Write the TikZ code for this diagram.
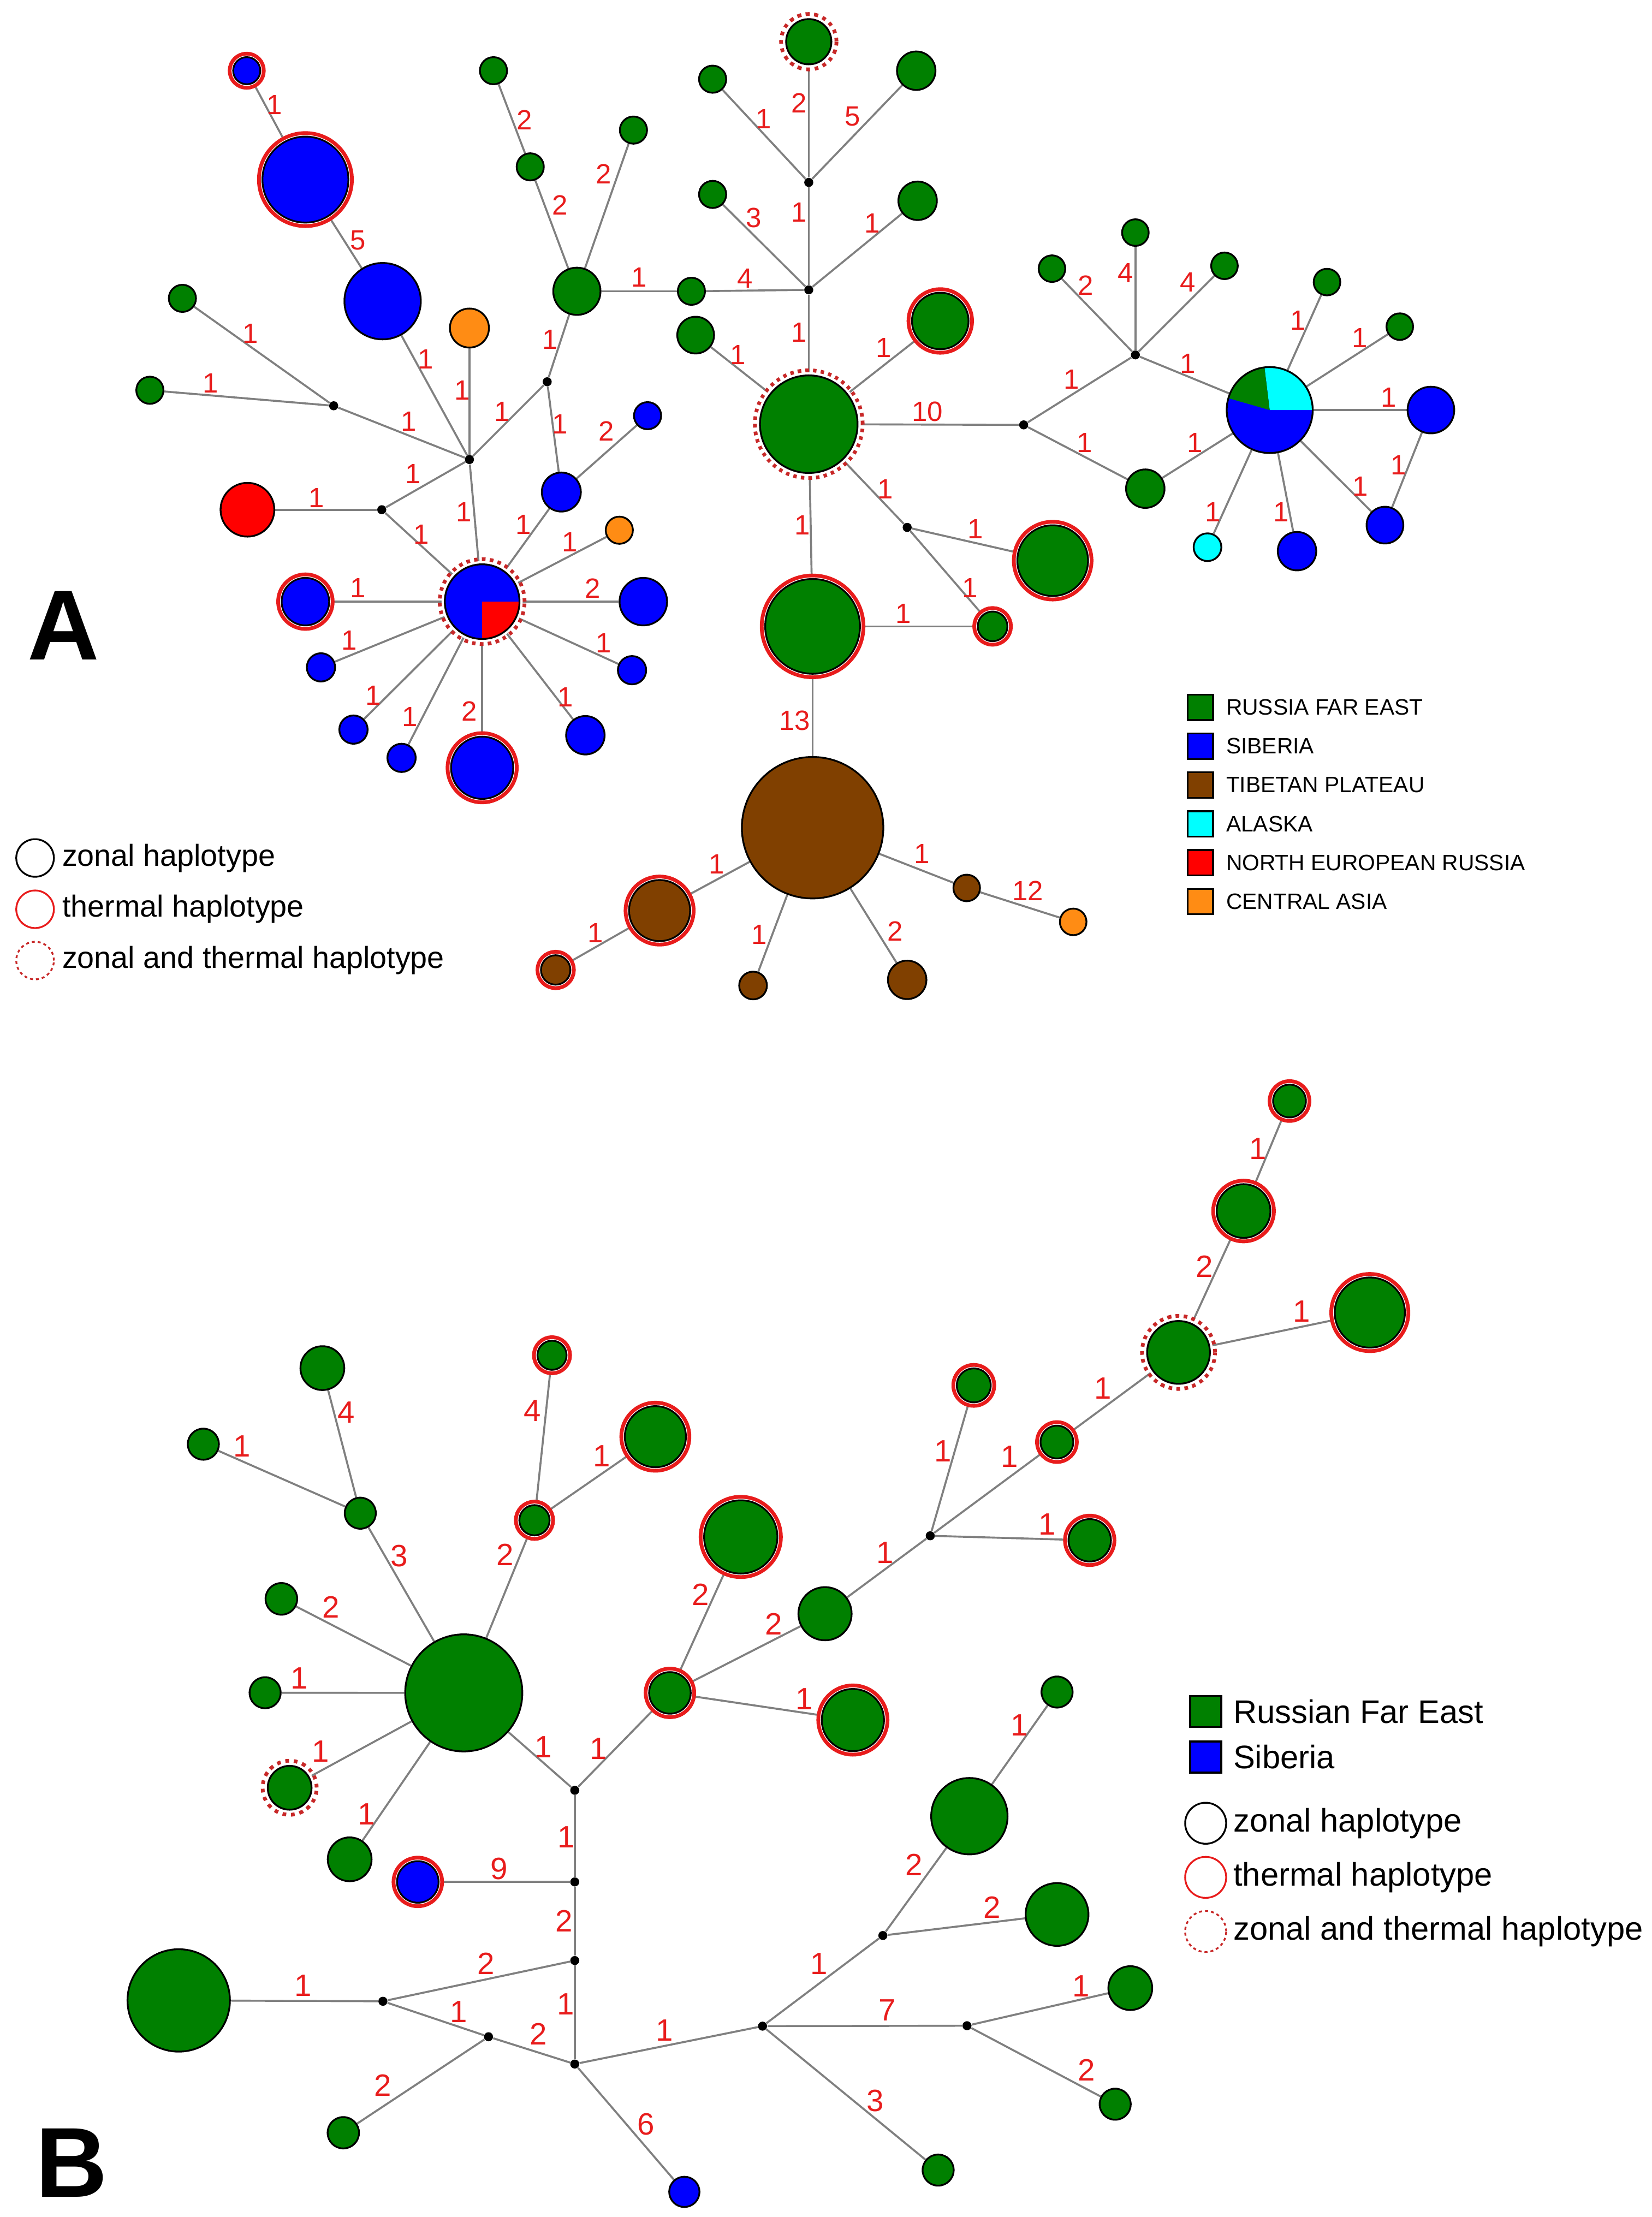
\documentclass[tikz,border=0pt]{standalone}
\usepackage{fontspec}
\setmainfont{Liberation Sans}
\usetikzlibrary{backgrounds,positioning}

\definecolor{cgreen}{RGB}{0,128,0}
\definecolor{cblue}{RGB}{0,0,255}
\definecolor{cbrown}{RGB}{128,64,0}
\definecolor{ccyan}{RGB}{0,255,255}
\definecolor{cred}{RGB}{255,0,0}
\definecolor{corange}{RGB}{255,140,20}
\definecolor{cring}{RGB}{232,28,28}
\definecolor{cdot}{RGB}{200,40,40}
\definecolor{cgray}{RGB}{128,128,128}

\begin{document}
\begin{tikzpicture}[x=0.025cm, y=-0.025cm,
    hap/.style 2 args={circle, draw=black, line width=0.9pt, inner sep=0pt, fill=#1, minimum size=#2*0.05cm},
    therm/.style={preaction={draw=cring, line width=5.4pt}, preaction={draw=white, line width=1.6pt}},
    both/.style={preaction={draw=cdot, line width=7pt, dash pattern=on 1.6pt off 1.9pt}, preaction={draw=white, line width=3.2pt}},
    jn/.style={circle, fill=black, inner sep=0pt, minimum size=0.16cm},
    lbl/.style={text=cring, inner sep=0pt, font=\fontsize{14}{14}\selectfont},
    keybox/.style={rectangle, draw=black, line width=0.9pt, inner sep=0pt, minimum size=#1},
    keyring/.style={circle, line width=0.9pt, inner sep=0pt, minimum size=#1},
    keytxt/.style={inner sep=0pt, font=\fontsize{#1}{#1}\selectfont}]
  \useasboundingbox (0,0) rectangle (1168,1568);

  \node[hap={cblue}{9.6}, therm] (a1) at (174.5,50) {};
  \node[hap={cblue}{30.4}, therm] (a2) at (216,127) {};
  \node[hap={cblue}{27}] (a3) at (270.6,213) {};
  \node[hap={corange}{13.8}] (a4) at (332,232) {};
  \node[hap={cgreen}{9.6}] (a5) at (129,211) {};
  \node[hap={cgreen}{9.6}] (a6) at (106,276) {};
  \node[jn] (ja1) at (236,287) {};
  \node[jn] (ja2) at (332,325) {};
  \node[jn] (ja3) at (387,270) {};
  \node[hap={cgreen}{16.7}] (a7) at (408,206) {};
  \node[hap={cgreen}{9.6}] (a8) at (375,118) {};
  \node[hap={cgreen}{9.6}] (a9) at (349,50) {};
  \node[hap={cgreen}{9.6}] (a10) at (448,92) {};
  \node[hap={cgreen}{9.6}] (a11) at (489,206) {};
  \node[jn] (ja4) at (572,205) {};
  \node[jn] (ja5) at (572,129) {};
  \node[hap={cgreen}{16}, both] (a12) at (572,29.5) {};
  \node[hap={cgreen}{9.6}] (a13) at (504,56) {};
  \node[hap={cgreen}{13.6}] (a14) at (648,50) {};
  \node[hap={cgreen}{9.6}] (a15) at (504,137.5) {};
  \node[hap={cgreen}{13.6}] (a16) at (649,142) {};
  \node[hap={cgreen}{34.5}, both] (a17) at (572,300) {};
  \node[hap={cgreen}{13}] (a18) at (492,237) {};
  \node[hap={cgreen}{20}, therm] (a19) at (665,227) {};
  \node[jn] (ja6) at (724,300.5) {};
  \node[jn] (ja7) at (803,251) {};
  \node[hap={cgreen}{9.4}] (a20) at (744,190) {};
  \node[hap={cgreen}{9.4}] (a21) at (803,164.5) {};
  \node[hap={cgreen}{9.4}] (a22) at (866,188) {};
  \node[hap={cgreen}{13.6}] (a23) at (810,345.6) {};
  \node[hap={cblue}{30.4}, path picture={
      \fill[ccyan] (path picture bounding box.center) -- ++(0:1cm) arc[start angle=0, end angle=97, radius=1cm] -- cycle;
      \fill[cgreen] (path picture bounding box.center) -- ++(97:1cm) arc[start angle=97, end angle=164, radius=1cm] -- cycle;}] (a24) at (898,290) {};
  \node[hap={cgreen}{9.4}] (a25) at (938.5,199.5) {};
  \node[hap={cgreen}{9.4}] (a26) at (990,231) {};
  \node[hap={cblue}{16.5}] (a27) at (1012,290) {};
  \node[hap={cblue}{13}] (a28) at (979.5,371.4) {};
  \node[hap={cblue}{13.6}] (a29) at (917.3,389.8) {};
  \node[hap={ccyan}{9.8}] (a30) at (854,387) {};
  \node[jn] (ja8) at (641.6,373) {};
  \node[hap={cgreen}{25}, therm] (a31) at (744.5,396.5) {};
  \node[hap={cgreen}{10.5}, therm] (a32) at (702,443) {};
  \node[hap={cgreen}{33.5}, therm] (a33) at (574.7,443) {};
  \node[hap={cbrown}{50}] (a34) at (574.7,585.4) {};
  \node[hap={cbrown}{21.6}, therm] (a35) at (466.5,644) {};
  \node[hap={cbrown}{10.4}, therm] (a36) at (393,686) {};
  \node[hap={cbrown}{9.8}] (a37) at (532.6,697) {};
  \node[hap={cbrown}{13.6}] (a38) at (641.6,693) {};
  \node[hap={cbrown}{9.4}] (a39) at (683.7,628) {};
  \node[hap={corange}{9.4}] (a40) at (759,652) {};
  \node[hap={cred}{19}] (a41) at (175,360.5) {};
  \node[jn] (ja9) at (270,360.5) {};
  \node[hap={cblue}{26.4}, both, path picture={
      \fill[cred] (path picture bounding box.center) -- ++(0:1cm) arc[start angle=0, end angle=-90, radius=1cm] -- cycle;}] (a42) at (341,425.5) {};
  \node[hap={cblue}{13.8}] (a43) at (397,348) {};
  \node[hap={cblue}{9.6}] (a44) at (458,294) {};
  \node[hap={corange}{9.6}] (a45) at (438,375) {};
  \node[hap={cblue}{16.8}] (a46) at (455,425.5) {};
  \node[hap={cblue}{10}] (a47) at (447,474) {};
  \node[hap={cblue}{13.6}] (a48) at (414,520) {};
  \node[hap={cblue}{22}, therm] (a49) at (341,543) {};
  \node[hap={cblue}{10}] (a50) at (284,536) {};
  \node[hap={cblue}{10}] (a51) at (250,516) {};
  \node[hap={cblue}{10}] (a52) at (227,472) {};
  \node[hap={cblue}{16.8}, therm] (a53) at (216,425.5) {};

  \begin{scope}[on background layer, every edge/.style={draw=cgray, line width=1pt}]
    \path (a1) edge (a2) (194,74) node[lbl] (la1) {1};
    \path (a2) edge (a3) (253,170) node[lbl] (la2) {5};
    \path (a3) edge (ja2) (301,254) node[lbl] (la3) {1};
    \path (a4) edge (ja2) (327,276) node[lbl] (la4) {1};
    \path (a5) edge (ja1) (177,236) node[lbl] (la5) {1};
    \path (a6) edge (ja1) (149,271) node[lbl] (la6) {1};
    \path (ja1) edge (ja2) (289,298) node[lbl] (la7) {1};
    \path (ja2) edge (ja3) (355,291) node[lbl] (la8) {1};
    \path (ja3) edge (a7) (389,240) node[lbl] (la9) {1};
    \path (a7) edge (a8) (396,145) node[lbl] (la10) {2};
    \path (a8) edge (a9) (371,85) node[lbl] (la11) {2};
    \path (a7) edge (a10) (427,123) node[lbl] (la12) {2};
    \path (a7) edge (a11) (452,196) node[lbl] (la13) {1};
    \path (a11) edge (ja4) (527,197) node[lbl] (la14) {4};
    \path (ja4) edge (ja5) (565,150) node[lbl] (la15) {1};
    \path (ja5) edge (a12) (565,73) node[lbl] (la16) {2};
    \path (ja5) edge (a13) (540,84) node[lbl] (la17) {1};
    \path (ja5) edge (a14) (603,82.5) node[lbl] (la18) {5};
    \path (ja4) edge (a15) (533,154) node[lbl] (la19) {3};
    \path (ja4) edge (a16) (617,158) node[lbl] (la20) {1};
    \path (ja4) edge (a17) (565,235) node[lbl] (la21) {1};
    \path (a18) edge (a17) (522,251) node[lbl] (la22) {1};
    \path (a19) edge (a17) (625,246) node[lbl] (la23) {1};
    \path (a17) edge (ja6) (656,291) node[lbl] (la24) {10};
    \path (ja6) edge (ja7) (758,268.5) node[lbl] (la25) {1};
    \path (ja7) edge (a20) (768,202) node[lbl] (la26) {2};
    \path (ja7) edge (a21) (796,193) node[lbl] (la27) {4};
    \path (ja7) edge (a22) (840,199.5) node[lbl] (la28) {4};
    \path (ja7) edge (a24) (840,257) node[lbl] (la29) {1};
    \path (ja6) edge (a23) (767,313) node[lbl] (la30) {1};
    \path (a23) edge (a24) (845,313) node[lbl] (la31) {1};
    \path (a24) edge (a25) (918,226.6) node[lbl] (la32) {1};
    \path (a24) edge (a26) (961.5,239) node[lbl] (la33) {1};
    \path (a24) edge (a27) (982,281) node[lbl] (la34) {1};
    \path (a27) edge (a28) (989,329) node[lbl] (la35) {1};
    \path (a24) edge (a28) (962,344) node[lbl] (la36) {1};
    \path (a24) edge (a29) (906,362) node[lbl] (la37) {1};
    \path (a24) edge (a30) (858,362) node[lbl] (la38) {1};
    \path (a17) edge (ja8) (626,346) node[lbl] (la39) {1};
    \path (ja8) edge (a31) (690,374) node[lbl] (la40) {1};
    \path (ja8) edge (a32) (686,416) node[lbl] (la41) {1};
    \path (a17) edge (a33) (567.5,371.5) node[lbl] (la42) {1};
    \path (a33) edge (a32) (639,434) node[lbl] (la43) {1};
    \path (a33) edge (a34) (562,509.5) node[lbl] (la44) {13};
    \path (a34) edge (a35) (507,611) node[lbl] (la45) {1};
    \path (a35) edge (a36) (421,660) node[lbl] (la46) {1};
    \path (a34) edge (a37) (537,661) node[lbl] (la47) {1};
    \path (a34) edge (a38) (633,658.6) node[lbl] (la48) {2};
    \path (a34) edge (a39) (652,604) node[lbl] (la49) {1};
    \path (a39) edge (a40) (726.8,630) node[lbl] (la50) {12};
    \path (a41) edge (ja9) (224,352) node[lbl] (la51) {1};
    \path (ja9) edge (ja2) (292,335) node[lbl] (la52) {1};
    \path (ja9) edge (a42) (298,378) node[lbl] (la53) {1};
    \path (ja2) edge (a42) (328,362) node[lbl] (la54) {1};
    \path (ja3) edge (a43) (396,300) node[lbl] (la55) {1};
    \path (a43) edge (a44) (429,305) node[lbl] (la56) {2};
    \path (a43) edge (a42) (370,371) node[lbl] (la57) {1};
    \path (a45) edge (a42) (403,383.5) node[lbl] (la58) {1};
    \path (a46) edge (a42) (419,416) node[lbl] (la59) {2};
    \path (a47) edge (a42) (427,455) node[lbl] (la60) {1};
    \path (a48) edge (a42) (400,493) node[lbl] (la61) {1};
    \path (a49) edge (a42) (332,503) node[lbl] (la62) {2};
    \path (a50) edge (a42) (290,507) node[lbl] (la63) {1};
    \path (a51) edge (a42) (264,492) node[lbl] (la64) {1};
    \path (a52) edge (a42) (247,453) node[lbl] (la65) {1};
    \path (a53) edge (a42) (253,416) node[lbl] (la66) {1};
  \end{scope}

  \node[inner sep=0pt, font=\bfseries\fontsize{50}{50}\selectfont] (tA) at (44.8,442.5) {A};

  \node[keyring=0.665cm, draw=black] (kz) at (24.8,606.8) {};
  \node[keyring=0.665cm, draw=cring] (kt) [below=0.21cm of kz] {};
  \node[keyring=0.665cm, draw=cdot, dash pattern=on 1.5pt off 1.5pt] (kb) [below=0.21cm of kt] {};
  \node[keytxt=15.3, right=0.125cm of kz] (tz) {zonal haplotype};
  \node[keytxt=15.3, right=0.125cm of kt] (tt) {thermal haplotype};
  \node[keytxt=15.3, right=0.125cm of kb] (tb) {zonal and thermal haplotype};

  \node[keybox=0.45cm, fill=cgreen] (ka1) at (848.9,500.3) {};
  \node[keybox=0.45cm, fill=cblue] (ka2) [below=0.205cm of ka1] {};
  \node[keybox=0.45cm, fill=cbrown] (ka3) [below=0.205cm of ka2] {};
  \node[keybox=0.45cm, fill=ccyan] (ka4) [below=0.205cm of ka3] {};
  \node[keybox=0.45cm, fill=cred] (ka5) [below=0.205cm of ka4] {};
  \node[keybox=0.45cm, fill=corange] (ka6) [below=0.205cm of ka5] {};
  \node[keytxt=11.2, right=0.21cm of ka1] (ta1) {RUSSIA FAR EAST};
  \node[keytxt=11.2, right=0.21cm of ka2] (ta2) {SIBERIA};
  \node[keytxt=11.2, right=0.21cm of ka3] (ta3) {TIBETAN PLATEAU};
  \node[keytxt=11.2, right=0.21cm of ka4] (ta4) {ALASKA};
  \node[keytxt=11.2, right=0.21cm of ka5] (ta5) {NORTH EUROPEAN RUSSIA};
  \node[keytxt=11.2, right=0.21cm of ka6] (ta6) {CENTRAL ASIA};

  \begin{scope}[lbl/.append style={font=\fontsize{15.5}{15.5}\selectfont}]
    \node[hap={cgreen}{15.5}] (b1) at (228,967.6) {};
    \node[hap={cgreen}{11}] (b2) at (254.8,1070.2) {};
    \node[hap={cgreen}{11}] (b3) at (143.8,1021.4) {};
    \node[hap={cgreen}{41.4}] (b4) at (328,1197.3) {};
    \node[hap={cgreen}{11.2}] (b5) at (199,1130.8) {};
    \node[hap={cgreen}{11}] (b6) at (187.5,1197.2) {};
    \node[hap={cgreen}{15.5}, both] (b7) at (204.85,1264.4) {};
    \node[hap={cgreen}{15.5}] (b8) at (247.3,1315) {};
    \node[hap={cblue}{14.7}, therm] (b9) at (295.5,1331) {};
    \node[jn] (jb1) at (406.5,1331) {};
    \node[jn] (jb2) at (406.5,1266.2) {};
    \node[hap={cgreen}{10.3}, therm] (b10) at (390.4,958.5) {};
    \node[hap={cgreen}{10.7}, therm] (b11) at (378,1075.2) {};
    \node[hap={cgreen}{21.6}, therm] (b12) at (463.5,1016.1) {};
    \node[hap={cgreen}{14.7}, therm] (b13) at (473.8,1197.3) {};
    \node[hap={cgreen}{25.9}, therm] (b14) at (523.9,1087) {};
    \node[hap={cgreen}{18.8}] (b15) at (583.5,1141.3) {};
    \node[hap={cgreen}{22}, therm] (b16) at (603.2,1216.5) {};
    \node[jn] (jb3) at (657.9,1086.2) {};
    \node[hap={cgreen}{11.6}, therm] (b17) at (912,778.7) {};
    \node[hap={cgreen}{19}, therm] (b18) at (879.5,856.5) {};
    \node[hap={cgreen}{22.2}, both] (b19) at (833.5,956.5) {};
    \node[hap={cgreen}{24.8}, therm] (b20) at (968.8,928.3) {};
    \node[hap={cgreen}{11.6}, therm] (b21) at (747.5,1019.9) {};
    \node[hap={cgreen}{12}, therm] (b22) at (688.7,979.8) {};
    \node[hap={cgreen}{15}, therm] (b23) at (770.7,1089.4) {};
    \node[jn] (jb4) at (406.5,1386.6) {};
    \node[jn] (jb5) at (270.8,1415.4) {};
    \node[hap={cgreen}{36.2}] (b24) at (126.4,1414.8) {};
    \node[jn] (jb6) at (345.5,1440.5) {};
    \node[jn] (jb7) at (406.5,1459.8) {};
    \node[hap={cgreen}{11.1}] (b25) at (242.8,1508.4) {};
    \node[hap={cblue}{10.7}] (b26) at (484,1550.2) {};
    \node[jn] (jb8) at (539.3,1433) {};
    \node[jn] (jb9) at (624.4,1368.9) {};
    \node[hap={cgreen}{11}] (b27) at (747.6,1196.7) {};
    \node[hap={cgreen}{27}] (b28) at (685.6,1284.5) {};
    \node[hap={cgreen}{22.2}] (b29) at (747.6,1354) {};
    \node[jn] (jb10) at (683.9,1432.7) {};
    \node[hap={cgreen}{15.5}] (b30) at (799.4,1406.1) {};
    \node[hap={cgreen}{11}] (b31) at (788.7,1488.2) {};
    \node[hap={cgreen}{11}] (b32) at (663.5,1534.8) {};

    \begin{scope}[on background layer, every edge/.style={draw=cgray, line width=1pt}]
      \path (b1) edge (b2) (245,999) node[lbl] (lb1) {4};
      \path (b3) edge (b2) (171,1023) node[lbl] (lb2) {1};
      \path (b2) edge (b4) (282.4,1100.3) node[lbl] (lb3) {3};
      \path (b5) edge (b4) (234,1136.7) node[lbl] (lb4) {2};
      \path (b6) edge (b4) (211.7,1187) node[lbl] (lb5) {1};
      \path (b7) edge (b4) (226.6,1238.7) node[lbl] (lb6) {1};
      \path (b8) edge (b4) (259.3,1283) node[lbl] (lb7) {1};
      \path (b4) edge (b11) (357.3,1099.7) node[lbl] (lb8) {2};
      \path (b11) edge (b10) (376.6,997.8) node[lbl] (lb9) {4};
      \path (b11) edge (b12) (425.6,1029.7) node[lbl] (lb10) {1};
      \path (b4) edge (jb2) (384.2,1235.7) node[lbl] (lb11) {1};
      \path (jb2) edge (b13) (423.2,1236.6) node[lbl] (lb12) {1};
      \path (b13) edge (b14) (495.6,1127.8) node[lbl] (lb13) {2};
      \path (b13) edge (b15) (547,1148.5) node[lbl] (lb14) {2};
      \path (b13) edge (b16) (568.8,1201.6) node[lbl] (lb15) {1};
      \path (b15) edge (jb3) (626,1098.3) node[lbl] (lb16) {1};
      \path (jb3) edge (b22) (667,1026.3) node[lbl] (lb17) {1};
      \path (jb3) edge (b21) (714,1030) node[lbl] (lb18) {1};
      \path (jb3) edge (b23) (740.7,1078) node[lbl] (lb19) {1};
      \path (b21) edge (b19) (780,982) node[lbl] (lb20) {1};
      \path (b19) edge (b18) (852,895.6) node[lbl] (lb21) {2};
      \path (b18) edge (b17) (889.6,812.4) node[lbl] (lb22) {1};
      \path (b19) edge (b20) (920.7,927.6) node[lbl] (lb23) {1};
      \path (jb2) edge (jb1) (400.4,1299.3) node[lbl] (lb24) {1};
      \path (b9) edge (jb1) (353,1321.5) node[lbl] (lb25) {9};
      \path (jb1) edge (jb4) (399,1358.6) node[lbl] (lb26) {2};
      \path (jb4) edge (jb5) (343.6,1388.7) node[lbl] (lb27) {2};
      \path (b24) edge (jb5) (214.3,1404.4) node[lbl] (lb28) {1};
      \path (jb5) edge (jb6) (324.4,1422.7) node[lbl] (lb29) {1};
      \path (jb6) edge (jb7) (380.6,1438.4) node[lbl] (lb30) {2};
      \path (jb4) edge (jb7) (400.2,1417.5) node[lbl] (lb31) {1};
      \path (jb6) edge (b25) (270.8,1475) node[lbl] (lb32) {2};
      \path (jb7) edge (b26) (457,1502.4) node[lbl] (lb33) {6};
      \path (jb7) edge (jb8) (470,1435.8) node[lbl] (lb34) {1};
      \path (jb8) edge (jb9) (579.4,1389) node[lbl] (lb35) {1};
      \path (jb9) edge (b28) (646.5,1318.9) node[lbl] (lb36) {2};
      \path (b28) edge (b27) (720.8,1220.2) node[lbl] (lb37) {1};
      \path (jb9) edge (b29) (701.7,1348.9) node[lbl] (lb38) {2};
      \path (jb8) edge (jb10) (627.4,1421.8) node[lbl] (lb39) {7};
      \path (jb10) edge (b30) (764.6,1404.7) node[lbl] (lb40) {1};
      \path (jb10) edge (b31) (768.4,1464.2) node[lbl] (lb41) {2};
      \path (jb8) edge (b32) (618.9,1485.6) node[lbl] (lb42) {3};
    \end{scope}
  \end{scope}

  \node[inner sep=0pt, font=\bfseries\fontsize{50}{50}\selectfont] (tB) at (50.8,1529.8) {B};

  \node[keybox=0.55cm, fill=cgreen] (kb1) at (852.7,1210.4) {};
  \node[keybox=0.55cm, fill=cblue] (kb2) [below=0.225cm of kb1] {};
  \node[keytxt=16.4, right=0.19cm of kb1] (tb1) {Russian Far East};
  \node[keytxt=16.4, right=0.19cm of kb2] (tb2) {Siberia};
  \node[keyring=0.725cm, draw=black] (kbz) at (852.7,1289.5) {};
  \node[keyring=0.725cm, draw=cring] (kbt) [below=0.2cm of kbz] {};
  \node[keyring=0.725cm, draw=cdot, dash pattern=on 1.5pt off 1.5pt] (kbb) [below=0.2cm of kbt] {};
  \node[keytxt=16.4, right=0.105cm of kbz] (tbz) {zonal haplotype};
  \node[keytxt=16.4, right=0.105cm of kbt] (tbt) {thermal haplotype};
  \node[keytxt=16.4, right=0.105cm of kbb] (tbb) {zonal and thermal haplotype};
\end{tikzpicture}
\end{document}
